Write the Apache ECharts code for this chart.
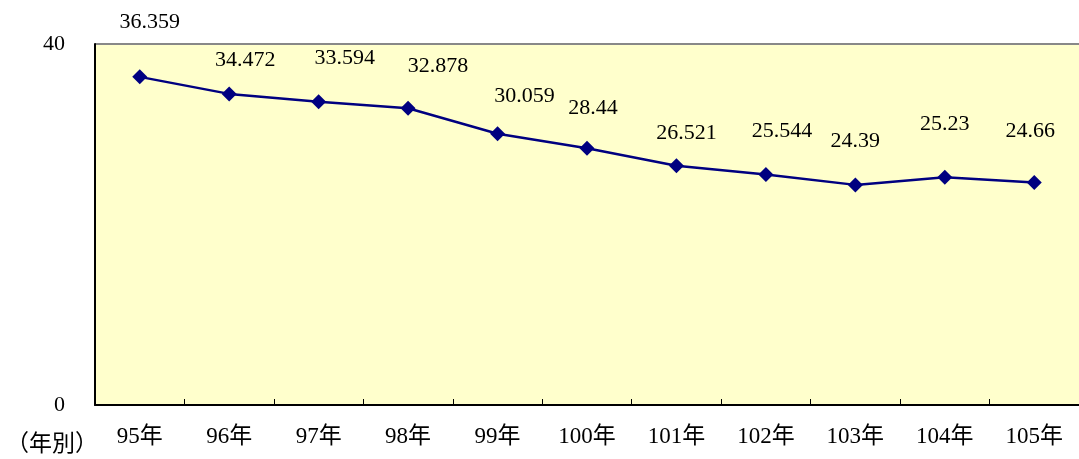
<!DOCTYPE html>
<html>
<head>
<meta charset="utf-8">
<style>
	html, body { margin: 0; padding: 0; background: #ffffff; }
	#main { width: 1079px; height: 459px; }
</style>
</head>
<body>
<div id="main"></div>
<script src="https://cdn.jsdelivr.net/npm/echarts@6/dist/echarts.min.js"></script>
<script>
	// 年別
	var years = ['95年', '96年', '97年', '98年', '99年', '100年', '101年', '102年', '103年', '104年', '105年'];
	// 數值
	var values = [36.359, 34.472, 33.594, 32.878, 30.059, 28.44, 26.521, 25.544, 24.39, 25.23, 24.66];
	// 資料標籤文字
	var labelTexts = ['36.359', '34.472', '33.594', '32.878', '30.059', '28.44', '26.521', '25.544', '24.39', '25.23', '24.66'];

	// 標籤位移 (樣式用)
	var labelShift = [[10, -55], [16, -34], [26, -44], [30, -42], [27, -37], [6, -40],
		[10, -32], [16, -43], [0, -44], [0, -53], [-4, -51]];

	var serifFont = "'Liberation Serif', 'Noto Sans CJK TC', serif";

	var myChart = echarts.init(document.getElementById('main'));

	var seriesData = values.map(function (v, i) {
		return {
			value: v,
			label: {
				formatter: labelTexts[i],
				offset: labelShift[i]
			}
		};
	});

	var option = {
		animation: false,
		grid: {
			left: 95,
			top: 44,
			width: 987,
			height: 361,
			show: true,
			backgroundColor: '#FFFFCC',
			borderWidth: 0
		},
		xAxis: {
			type: 'category',
			data: years,
			boundaryGap: true,
			axisLine: { show: true, lineStyle: { color: '#000', width: 2 } },
			axisTick: { show: true, inside: true, length: 6, lineStyle: { color: '#000', width: 1 } },
			axisLabel: { color: '#000', fontSize: 23, fontFamily: serifFont, margin: 20, interval: 0 },
			splitLine: { show: false }
		},
		yAxis: {
			type: 'value',
			min: 0,
			max: 40,
			interval: 40,
			axisLine: { show: true, lineStyle: { color: '#000', width: 2 } },
			axisTick: { show: false },
			axisLabel: { color: '#000', fontSize: 22, fontFamily: serifFont, margin: 30 },
			splitLine: { show: true, lineStyle: { color: '#888', width: 2 } }
		},
		graphic: [{
			type: 'text',
			left: 6,
			top: 431,
			style: {
				text: '（年別）',
				fill: '#000',
				fontSize: 23,
				fontFamily: 'Noto Sans CJK TC'
			}
		}],
		series: [{
			type: 'line',
			data: seriesData,
			symbol: 'diamond',
			symbolSize: 15,
			itemStyle: { color: '#000080' },
			lineStyle: { color: '#000080', width: 2.5 },
			label: {
				show: true,
				position: 'inside',
				color: '#000',
				fontSize: 22,
				fontFamily: serifFont
			}
		}]
	};

	myChart.setOption(option);
</script>
</body>
</html>
